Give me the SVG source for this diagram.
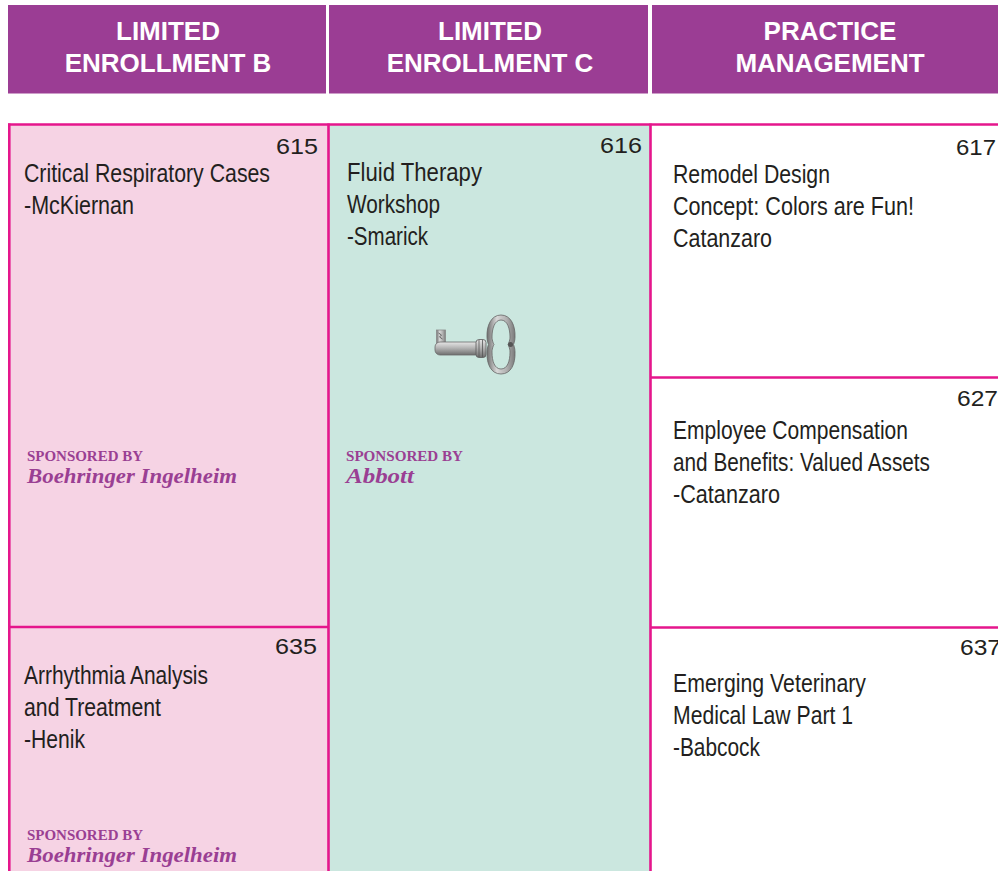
<svg xmlns="http://www.w3.org/2000/svg" width="998" height="871" viewBox="0 0 998 871">
<defs>
<style>
.hdr{fill:#9b3d94}
.ht{font-family:"Liberation Sans",Arial,sans-serif;font-weight:bold;font-size:26px;fill:#ffffff;text-anchor:middle}
.num{font-family:"Liberation Sans",Arial,sans-serif;font-size:22px;fill:#231f20;text-anchor:end}
.tt{font-family:"Liberation Sans Narrow","Liberation Sans",Arial,sans-serif;font-size:25px;fill:#231f20}
.sp{font-family:"Liberation Serif","Times New Roman",serif;font-weight:bold;font-size:15px;fill:#9a3f93}
.sn{font-family:"Liberation Serif","Times New Roman",serif;font-weight:bold;font-style:italic;font-size:20.5px;fill:#9a3f93}
.ln{stroke:#e5168c;stroke-width:2.6;fill:none}
</style>
<linearGradient id="metal" x1="0" y1="0" x2="0" y2="1">
<stop offset="0" stop-color="#e6e6e6"/>
<stop offset="0.45" stop-color="#b5b5b5"/>
<stop offset="1" stop-color="#6e6e6e"/>
</linearGradient>
<linearGradient id="metalH" x1="0" y1="0" x2="1" y2="0">
<stop offset="0" stop-color="#6e6e6e"/>
<stop offset="0.35" stop-color="#d8d8d8"/>
<stop offset="0.7" stop-color="#b0b0b0"/>
<stop offset="1" stop-color="#7a7a7a"/>
</linearGradient>
</defs>
<rect x="0" y="0" width="998" height="871" fill="#ffffff"/>

<g id="headers">
<g id="hdr-b">
<rect class="hdr" x="8" y="5" width="318" height="88.5"/>
<text class="ht" x="168" y="40">LIMITED</text>
<text class="ht" x="168" y="72">ENROLLMENT B</text>
</g>
<g id="hdr-c">
<rect class="hdr" x="329" y="5" width="319" height="88.5"/>
<text class="ht" x="490" y="40">LIMITED</text>
<text class="ht" x="490" y="72">ENROLLMENT C</text>
</g>
<g id="hdr-pm">
<rect class="hdr" x="652" y="5" width="346" height="88.5"/>
<text class="ht" x="830" y="40">PRACTICE</text>
<text class="ht" x="830" y="72">MANAGEMENT</text>
</g>
</g>

<g id="fills">
<rect x="9" y="124" width="319" height="747" fill="#f6d3e4"/>
<rect x="328" y="124" width="322" height="747" fill="#cbe7df"/>
</g>

<g id="connectors">
<line class="ln" x1="8" y1="124.5" x2="998" y2="124.5"/>
<line class="ln" x1="9.3" y1="123.5" x2="9.3" y2="871"/>
<line class="ln" x1="328.5" y1="123.5" x2="328.5" y2="871"/>
<line class="ln" x1="650.5" y1="123.5" x2="650.5" y2="871"/>
<line class="ln" x1="9" y1="627" x2="328" y2="627"/>
<line class="ln" x1="650" y1="377.5" x2="998" y2="377.5"/>
<line class="ln" x1="650" y1="627.5" x2="998" y2="627.5"/>
</g>

<g id="cell-615">
<text class="num" x="318" y="154" textLength="42" lengthAdjust="spacingAndGlyphs">615</text>
<text class="tt" x="24" y="181.5" textLength="246" lengthAdjust="spacingAndGlyphs">Critical Respiratory Cases</text>
<text class="tt" x="24" y="213.5" textLength="110" lengthAdjust="spacingAndGlyphs">-McKiernan</text>
<text class="sp" x="27" y="461" textLength="116" lengthAdjust="spacingAndGlyphs">SPONSORED BY</text>
<text class="sn" x="27" y="483" textLength="210" lengthAdjust="spacingAndGlyphs">Boehringer Ingelheim</text>
</g>

<g id="cell-616">
<text class="num" x="642" y="153" textLength="42" lengthAdjust="spacingAndGlyphs">616</text>
<text class="tt" x="347" y="180.5" textLength="135" lengthAdjust="spacingAndGlyphs">Fluid Therapy</text>
<text class="tt" x="347" y="212.5" textLength="93" lengthAdjust="spacingAndGlyphs">Workshop</text>
<text class="tt" x="347" y="244.5" textLength="81" lengthAdjust="spacingAndGlyphs">-Smarick</text>
<g id="key">
<rect x="436.5" y="330" width="9" height="14" fill="url(#metalH)" stroke="#8a8a8a" stroke-width="0.8"/>
<path d="M438.5 333 l3 2 l-2 2 l3 2" stroke="#666" stroke-width="1" fill="none"/>
<rect x="435" y="342" width="49" height="13" rx="5" fill="url(#metal)" stroke="#6a6a6a" stroke-width="0.8"/>
<rect x="476" y="339.5" width="10" height="18" rx="3" fill="url(#metal)" stroke="#5a5a5a" stroke-width="0.8"/>
<line x1="479" y1="340" x2="479" y2="357" stroke="#555" stroke-width="0.8"/>
<line x1="482.5" y1="340" x2="482.5" y2="357" stroke="#555" stroke-width="0.8"/>
<path d="M501 315 C511 315 515.5 326 515 337 C515 341 513.5 344.5 513.5 344.5 C513.5 344.5 515 348 515 352 C515.5 364 511 374 501 374 C491 374 486.5 364 487 352 C487 348 488.5 344.5 488.5 344.5 C488.5 344.5 487 341 487 337 C486.5 326 491 315 501 315 Z M501 320 C494.5 320 492 329 492 337 C492 341 494 344.5 494 344.5 C494 344.5 492 348 492 352 C492 361 494.5 369 501 369 C507.5 369 510 361 510 352 C510 348 508 344.5 508 344.5 C508 344.5 510 341 510 337 C510 329 507.5 320 501 320 Z" fill="url(#metalH)" fill-rule="evenodd" stroke="#666" stroke-width="0.8"/>
<circle cx="510.5" cy="344.5" r="2.5" fill="#555"/>
</g>
<text class="sp" x="346" y="461" textLength="117" lengthAdjust="spacingAndGlyphs">SPONSORED BY</text>
<text class="sn" x="346" y="483" textLength="68" lengthAdjust="spacingAndGlyphs">Abbott</text>
</g>

<g id="cell-617">
<text class="num" x="996" y="155" textLength="40" lengthAdjust="spacingAndGlyphs">617</text>
<text class="tt" x="673" y="182.5" textLength="157" lengthAdjust="spacingAndGlyphs">Remodel Design</text>
<text class="tt" x="673" y="214.5" textLength="241" lengthAdjust="spacingAndGlyphs">Concept: Colors are Fun!</text>
<text class="tt" x="673" y="246.5" textLength="99" lengthAdjust="spacingAndGlyphs">Catanzaro</text>
</g>

<g id="cell-627">
<text class="num" x="998" y="406" textLength="41" lengthAdjust="spacingAndGlyphs">627</text>
<text class="tt" x="673" y="438.5" textLength="235" lengthAdjust="spacingAndGlyphs">Employee Compensation</text>
<text class="tt" x="673" y="470.5" textLength="257" lengthAdjust="spacingAndGlyphs">and Benefits: Valued Assets</text>
<text class="tt" x="673" y="502.5" textLength="107" lengthAdjust="spacingAndGlyphs">-Catanzaro</text>
</g>

<g id="cell-635">
<text class="num" x="317" y="654" textLength="42" lengthAdjust="spacingAndGlyphs">635</text>
<text class="tt" x="24" y="683.5" textLength="184" lengthAdjust="spacingAndGlyphs">Arrhythmia Analysis</text>
<text class="tt" x="24" y="715.5" textLength="137" lengthAdjust="spacingAndGlyphs">and Treatment</text>
<text class="tt" x="24" y="747.5" textLength="61" lengthAdjust="spacingAndGlyphs">-Henik</text>
<text class="sp" x="27" y="840" textLength="116" lengthAdjust="spacingAndGlyphs">SPONSORED BY</text>
<text class="sn" x="27" y="862" textLength="210" lengthAdjust="spacingAndGlyphs">Boehringer Ingelheim</text>
</g>

<g id="cell-637">
<text class="num" x="1001" y="655" textLength="41" lengthAdjust="spacingAndGlyphs">637</text>
<text class="tt" x="673" y="691.5" textLength="193" lengthAdjust="spacingAndGlyphs">Emerging Veterinary</text>
<text class="tt" x="673" y="723.5" textLength="180" lengthAdjust="spacingAndGlyphs">Medical Law Part 1</text>
<text class="tt" x="673" y="755.5" textLength="87" lengthAdjust="spacingAndGlyphs">-Babcock</text>
</g>
</svg>
